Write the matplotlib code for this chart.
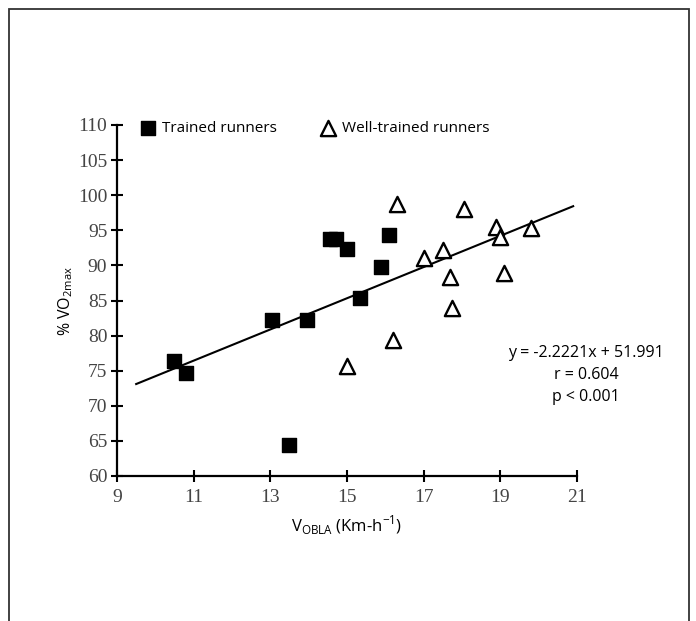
import numpy as np
import matplotlib
matplotlib.use('Agg')
import matplotlib.pyplot as plt
from matplotlib.patches import Rectangle

# trained runners (filled squares)
trained_x = [10.5, 10.8, 13.05, 13.95, 13.5, 15.35, 14.55, 14.72, 15.0, 16.1, 15.9]
trained_y = [76.4, 74.7, 82.2, 82.2, 64.4, 85.4, 93.7, 93.7, 92.3, 94.4, 89.8]

# well-trained runners (open triangles)
well_x = [16.3, 18.05, 18.9, 19.0, 19.8, 17.5, 17.0, 17.7, 19.1, 17.75, 16.2, 15.0]
well_y = [98.8, 98.1, 95.4, 94.1, 95.3, 92.2, 91.0, 88.4, 88.9, 83.9, 79.4, 75.6]

# regression line
slope = 2.2221
intercept = 51.991
line_x = [9.5, 20.9]

xticks = [9, 11, 13, 15, 17, 19, 21]
yticks = [60, 65, 70, 75, 80, 85, 90, 95, 100, 105, 110]

sans = 'Open Sans'
serif = 'Liberation Serif'
plt.rcParams['mathtext.fontset'] = 'custom'
plt.rcParams['mathtext.rm'] = sans

fig = plt.figure(figsize=(6.96, 6.21), dpi=100)
ax = fig.add_axes([117/696, (621-476)/621, 460/696, 351/621])

ax.plot(line_x, [slope*v + intercept for v in line_x], color='black', lw=1.5, zorder=1)
sq = ax.scatter(trained_x, trained_y, marker='s', s=100, color='black', zorder=3,
                label='Trained runners')
tr = ax.scatter(well_x, well_y, marker='^', s=120, facecolor='white', edgecolor='black',
                linewidths=1.7, zorder=3, label='Well-trained runners')

ax.set_xlim(9, 21)
ax.set_ylim(60, 110)
ax.set_xticks(xticks)
ax.set_yticks(yticks)
for s in ['top', 'right']:
    ax.spines[s].set_visible(False)
for s in ['left', 'bottom']:
    ax.spines[s].set_linewidth(1.6)
    ax.spines[s].set_color('black')
ax.tick_params(direction='inout', length=8, width=1.5, colors='black', labelcolor='#444444',
               labelsize=14)
ax.tick_params(axis='x', pad=5)
ax.tick_params(axis='y', pad=3)
for lab in ax.get_xticklabels() + ax.get_yticklabels():
    lab.set_fontfamily(serif)

ax.set_xlabel(r'V$_{\mathregular{OBLA}}$ (Km-h$^{\mathregular{-1}}$)', fontfamily=sans,
              fontsize=12, labelpad=6)
ax.set_ylabel(r'% VO$_{\mathregular{2max}}$', fontfamily=sans, fontsize=11.5, labelpad=2)

ax.text(1.02, 0.288, 'y = -2.2221x + 51.991\nr = 0.604\np < 0.001', transform=ax.transAxes,
        ha='center', va='center', fontfamily=sans, fontsize=11.5, linespacing=1.5)

ax.legend(handles=[sq, tr], loc='upper left', bbox_to_anchor=(0.005, 1.05), ncol=2,
          frameon=False, handletextpad=-0.1, columnspacing=2.35, prop={'family': sans, 'size': 11},
          scatterpoints=1)

fig.patches.append(Rectangle((9/696, -0.01), 680/696, (612/621)+0.01, transform=fig.transFigure,
                             fill=False, edgecolor='#333333', lw=1.3))

fig.savefig('out.png', dpi=100)
